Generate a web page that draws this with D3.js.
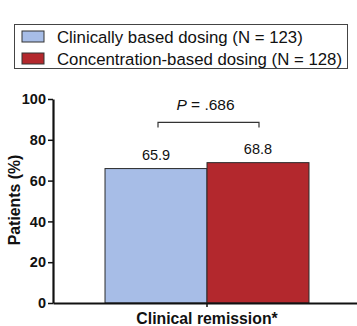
<!DOCTYPE html>
<html>
<head>
<meta charset="utf-8">
<script src="https://cdnjs.cloudflare.com/ajax/libs/d3/7.8.5/d3.min.js"></script>
<style>
  body { margin: 0; background: #fff; }
  svg { display: block; font-family: "Liberation Sans", Arial, sans-serif; }
</style>
</head>
<body>
<div id="chart"></div>
<script>
// remission rates per dosing arm
var categories = ["Clinical remission*"];
var groups = ["Clinically based dosing (N = 123)", "Concentration-based dosing (N = 128)"];
var values = [65.9, 68.8];
var colors = ["#a7bde7", "#b3282d"];
var yTicks = [0, 20, 40, 60, 80, 100];
var pLabel = ".686";

const W = 357, H = 326;
const margin = { top: 99, right: -4, bottom: 23, left: 53 };
const height = H - margin.top - margin.bottom;

var svg = d3.select("#chart")
  .append("svg")
    .attr("width", W)
    .attr("height", H);

// scales
var x = d3.scaleBand()
  .domain(categories)
  .range([margin.left, W - margin.right])
  .paddingInner(0)
  .paddingOuter(0.255);

var xSub = d3.scaleBand()
  .domain(groups)
  .range([0, x.bandwidth()])
  .padding(0);

var y = d3.scaleLinear()
  .domain([0, 100])
  .range([margin.top + height, margin.top]);

// bars
var data = groups.map(function(g, i) { return { group: g, value: values[i], color: colors[i] }; });

var bars = svg.append("g")
  .attr("transform", "translate(" + x(categories[0]) + ",0)");

bars.selectAll("rect")
  .data(data)
  .enter()
  .append("rect")
    .attr("x", function(d) { return xSub(d.group); })
    .attr("y", function(d) { return y(d.value); })
    .attr("width", xSub.bandwidth())
    .attr("height", function(d) { return y(0) - y(d.value); })
    .attr("fill", function(d) { return d.color; })
    .attr("stroke", "#2b2b2b")
    .attr("stroke-width", 1);

bars.selectAll("text.val")
  .data(data)
  .enter()
  .append("text")
    .attr("class", "val")
    .attr("x", function(d) { return xSub(d.group) + xSub.bandwidth() / 2; })
    .attr("y", function(d) { return y(d.value) - 9; })
    .attr("text-anchor", "middle")
    .style("font-size", "14.5px")
    .style("fill", "#111")
    .text(function(d) { return d.value.toFixed(1); });

// significance bracket
var c0 = xSub(groups[0]) + xSub.bandwidth() / 2 + 2;
var c1 = xSub(groups[1]) + xSub.bandwidth() / 2 + 1;
var by = y(88.5);
bars.append("path")
  .attr("d", "M" + c0 + "," + (by + 5) + "V" + by + "H" + c1 + "V" + (by + 5))
  .attr("fill", "none")
  .attr("stroke", "#333")
  .attr("stroke-width", 1.2);

var pt = bars.append("text")
  .attr("x", (c0 + c1) / 2 - 3)
  .attr("y", by - 12)
  .attr("text-anchor", "middle")
  .style("font-size", "15.5px")
  .style("fill", "#111");
pt.append("tspan").style("font-style", "italic").text("P");
pt.append("tspan").text(" = " + pLabel);

// axes
var yAxis = svg.append("g")
  .attr("transform", "translate(" + margin.left + ",0)")
  .call(d3.axisLeft(y).tickValues(yTicks).tickSize(5).tickSizeOuter(0).tickPadding(2));
yAxis.select(".domain").attr("stroke", "#111").attr("stroke-width", 2.2);
yAxis.selectAll(".tick line").attr("stroke", "#111").attr("stroke-width", 1.5);
yAxis.selectAll(".tick text")
  .style("font-size", "14.5px")
  .style("font-weight", "bold")
  .style("font-family", "'Liberation Sans', Arial, sans-serif")
  .attr("fill", "#111");

var xAxis = svg.append("g")
  .attr("transform", "translate(0," + y(0) + ")")
  .call(d3.axisBottom(x).tickSize(4).tickSizeOuter(0).tickPadding(6));
xAxis.select(".domain").attr("stroke", "#111").attr("stroke-width", 2.2);
xAxis.selectAll(".tick line").attr("stroke", "#111").attr("stroke-width", 1.5);
xAxis.selectAll(".tick text")
  .style("font-size", "15.8px")
  .style("font-weight", "bold")
  .style("font-family", "'Liberation Sans', Arial, sans-serif")
  .attr("fill", "#111");

svg.append("text")
  .attr("transform", "translate(20," + (margin.top + height / 2 - 1) + ") rotate(-90)")
  .attr("text-anchor", "middle")
  .style("font-size", "15.8px")
  .style("font-weight", "bold")
  .style("fill", "#111")
  .text("Patients (%)");

// legend
var legend = svg.append("g");
legend.append("rect")
  .attr("x", 14.5).attr("y", 24.5)
  .attr("width", 333).attr("height", 44)
  .attr("fill", "#fff")
  .attr("stroke", "#444")
  .attr("stroke-width", 1);

var items = legend.selectAll("g.item")
  .data(data)
  .enter()
  .append("g")
    .attr("class", "item")
    .attr("transform", function(d, i) { return "translate(22," + (31 + i * 22) + ")"; });

items.append("rect")
  .attr("width", 22).attr("height", 11)
  .attr("fill", function(d) { return d.color; })
  .attr("stroke", "#333")
  .attr("stroke-width", 1);

items.append("text")
  .attr("x", 35)
  .attr("y", 12)
  .style("font-size", "16.8px")
  .style("fill", "#111")
  .text(function(d) { return d.group; });
</script>
</body>
</html>
